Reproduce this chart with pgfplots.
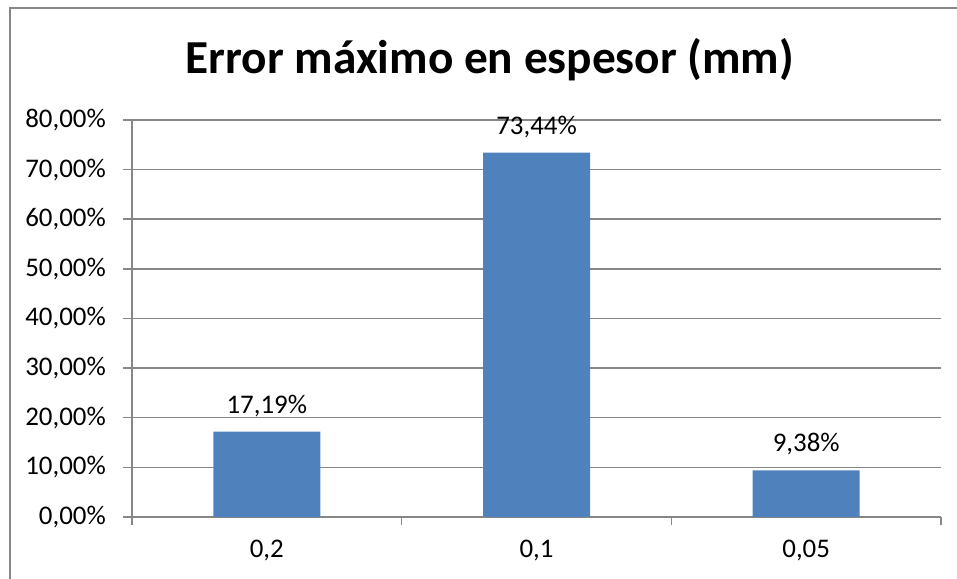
\documentclass[border=0pt]{standalone}
\usepackage{fontspec}
\setmainfont{Carlito}
\usepackage{pgfplots}
\pgfplotsset{compat=1.18}
\definecolor{barblue}{RGB}{79,129,189}
\definecolor{gridgray}{RGB}{134,134,134}
\begin{document}
\begin{tikzpicture}[x=1bp,y=1bp]
\useasboundingbox (0,0) rectangle (957,579);
\draw[gridgray, line width=1.5bp] (10,-2) -- (10,571) -- (960,571);
\node[anchor=base, font=\fontsize{47.5}{52}\selectfont\bfseries] at (490,505) {Error máximo en espesor (mm)};
\begin{axis}[
  at={(132bp,62bp)}, anchor=south west,
  scale only axis, width=809bp, height=397bp,
  xmin=-0.5, xmax=2.5, ymin=0, ymax=80,
  axis x line*=bottom, axis y line*=left,
  axis line style={gridgray, line width=1.5bp, -},
  xtick={0,1,2}, xticklabels={{0,2},{0,1},{0,05}},
  minor xtick={-0.5,0.5,1.5,2.5},
  x tick style={draw=none},
  minor x tick style={draw=gridgray, line width=1.5bp},
  minor tick length=8bp,
  ytick={0,10,...,80},
  yticklabels={{0,00\%},{10,00\%},{20,00\%},{30,00\%},{40,00\%},{50,00\%},{60,00\%},{70,00\%},{80,00\%}},
  major tick length=9bp, tick align=outside,
  y tick style={draw=gridgray, line width=1.5bp},
  ymajorgrids, major grid style={gridgray, line width=1.5bp},
  ticklabel style={font=\fontsize{27}{30}\selectfont, text=black},
  yticklabel style={anchor=east, inner sep=0pt, xshift=-17bp},
  xticklabel style={anchor=base, inner sep=0pt, yshift=-32bp},
  ybar, bar width=107bp, bar shift=0pt,
  nodes near coords, point meta=explicit symbolic,
  every node near coord/.append style={font=\fontsize{27}{30}\selectfont, text=black, anchor=base, inner sep=0pt, yshift=18.5bp},
  clip=false,
]
\addplot[fill=barblue, draw=none] coordinates {(0,17.19) [17,19\%] (1,73.44) [73,44\%] (2,9.38) [9,38\%]};
\end{axis}
\end{tikzpicture}
\end{document}
